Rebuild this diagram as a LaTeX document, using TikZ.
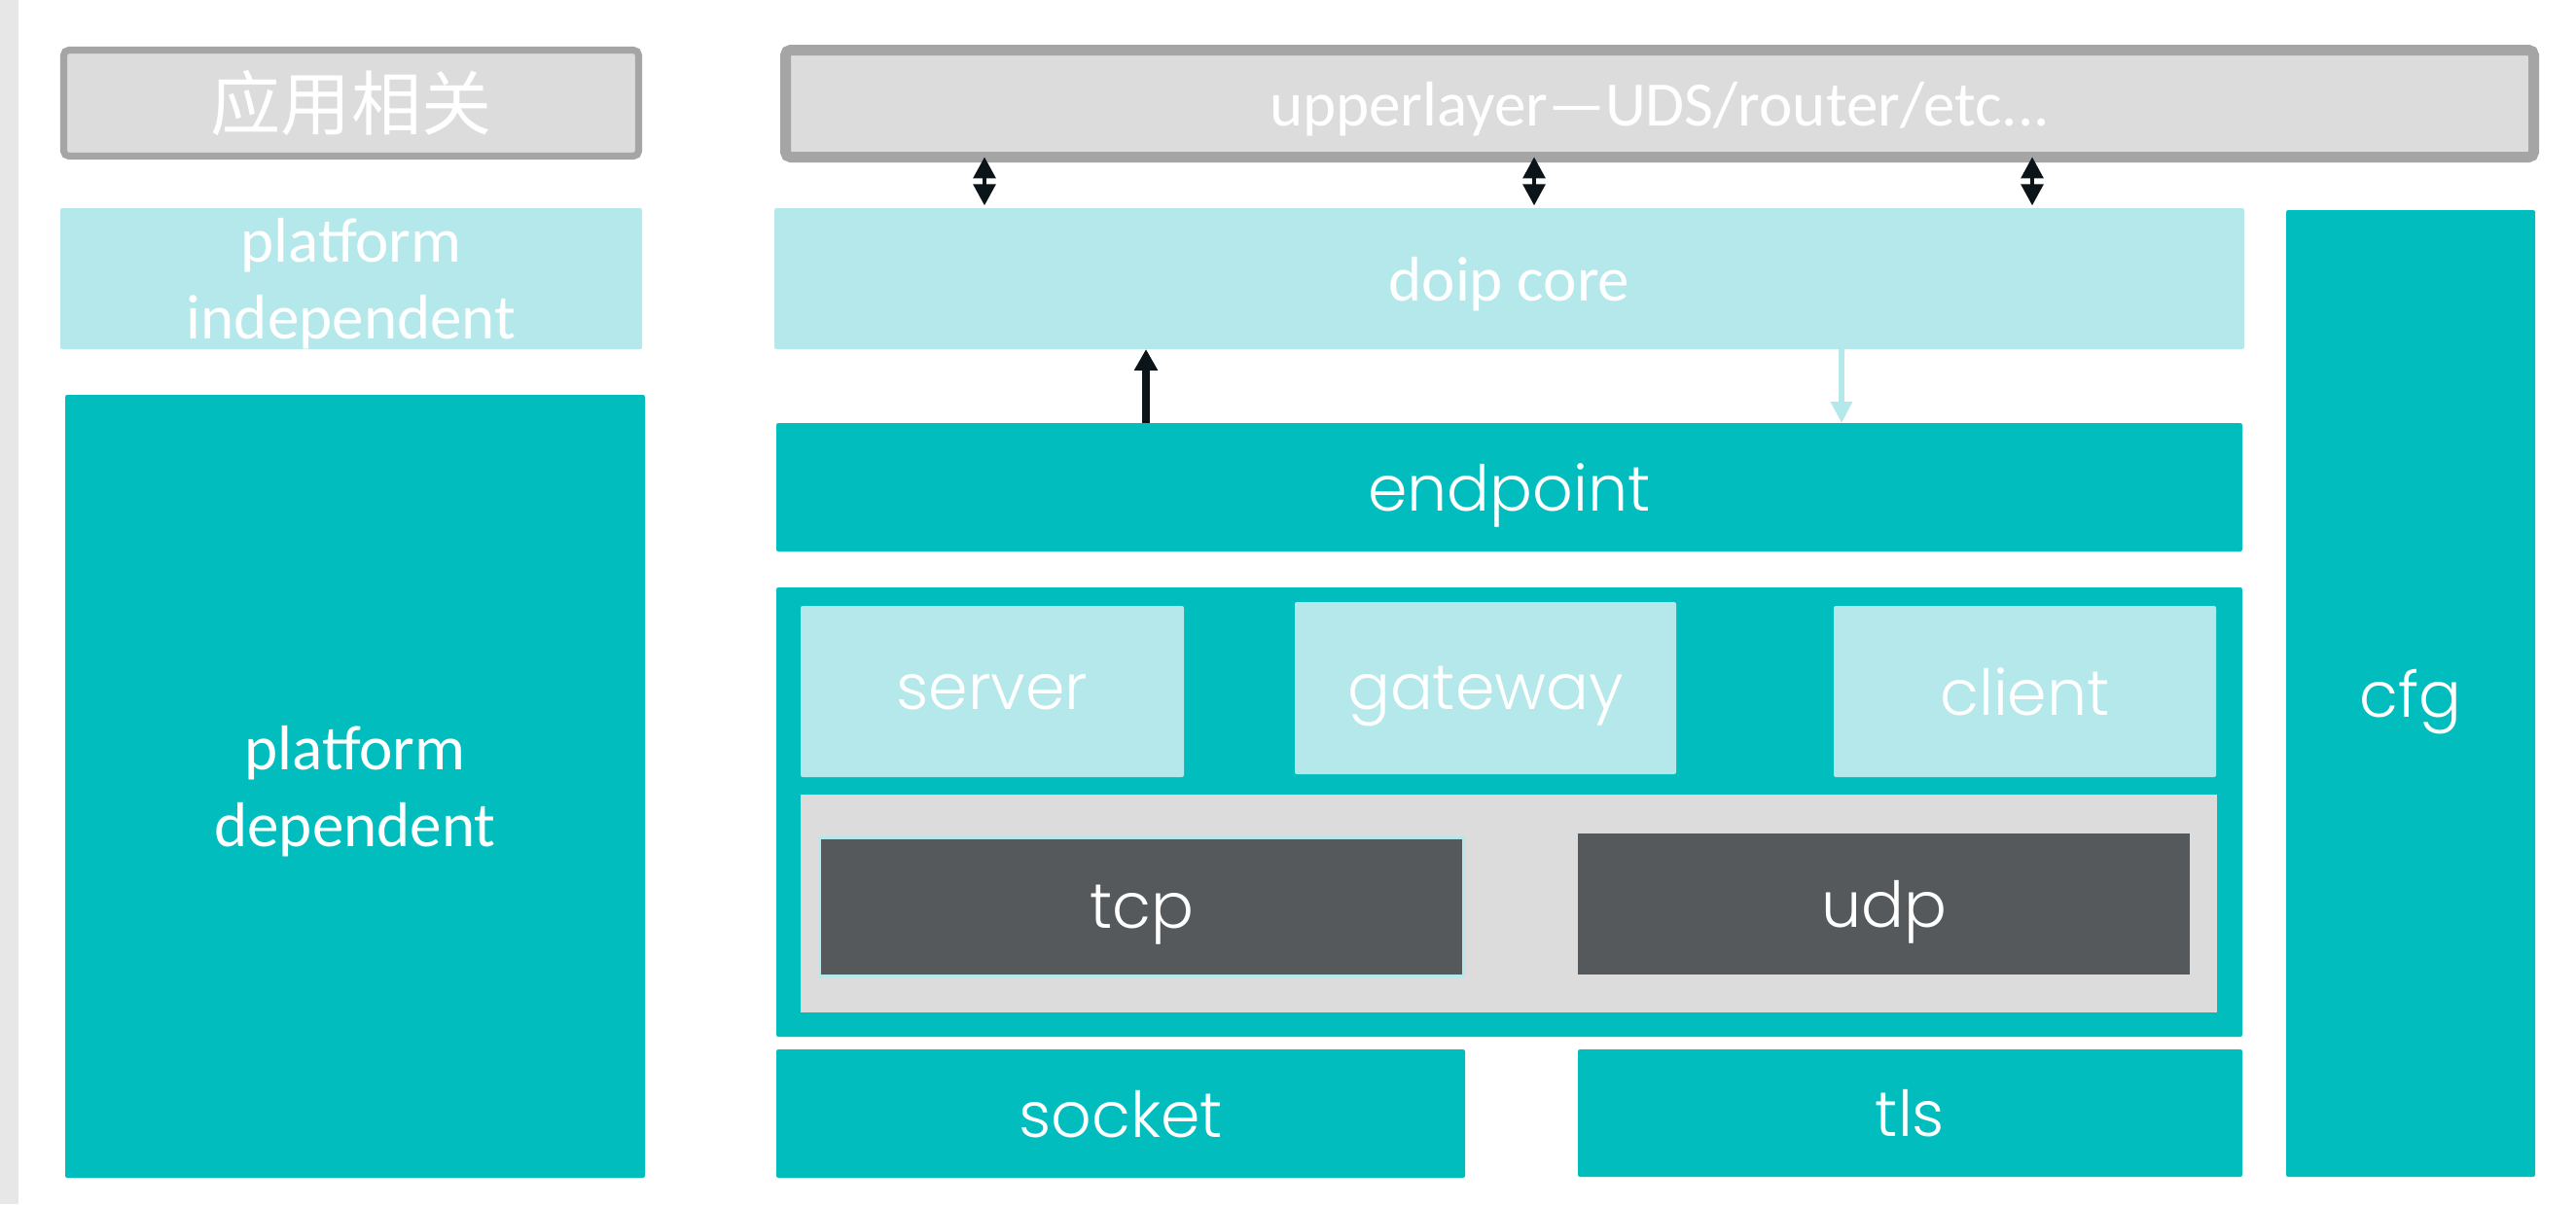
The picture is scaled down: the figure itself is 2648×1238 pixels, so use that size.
\documentclass[tikz,border=0pt]{standalone}
\usepackage{fontspec}
\setmainfont{Carlito}
\newfontfamily\geo{Poppins Light}
\newfontfamily\cjk{Noto Sans CJK SC}
\usetikzlibrary{arrows.meta,shadows}
\definecolor{teal1}{HTML}{02BDBE}
\definecolor{lblue}{HTML}{B5E8EA}
\definecolor{lgray}{HTML}{DCDCDC}
\definecolor{bgray}{HTML}{A5A5A5}
\definecolor{dgray}{HTML}{55595C}
\definecolor{arr}{HTML}{0A1419}
\definecolor{strip}{HTML}{E7E7E7}
\newcommand\mybox[7]{\node[#6, minimum width={(#4-#2)*0.01cm}, minimum height={(#5-#3)*0.01cm}] (#1) at ({(#2+#4)/2},{(#3+#5)/2}) {#7};}
\begin{document}
\begin{tikzpicture}[x=0.01cm,y=-0.01cm,
  every node/.style={inner sep=0pt,outer sep=0pt,text=white,align=center},
  base/.style={rounded corners=0.6pt},
  tealbox/.style={base,fill=teal1},
  lightbox/.style={base,fill=lblue},
  graybox/.style={base,fill=lgray,draw=bgray,rounded corners=1.5pt},
  darkbox/.style={fill=dgray},
  geotext/.style={font=\geo\fontsize{18.5}{22}\selectfont,text depth=0pt},
  caltext/.style={font=\fontsize{18.5}{22.5}\selectfont,text depth=0pt},
  dbl/.style={draw=arr,line width=0.9pt,{Triangle[length=6.2pt,width=6.5pt]}-{Triangle[length=6.2pt,width=6.5pt]},shorten >=0.8pt},
  uparr/.style={draw=arr,line width=2pt,-{Triangle[length=6.2pt,width=6.5pt]}},
  lightarr/.style={draw=lblue,line width=1.7pt,-{Triangle[length=6.2pt,width=6pt]}}
]
\fill[white] (0,0) rectangle (2648,1238);
\useasboundingbox (0,0) rectangle (2648,1238);
\fill[strip] (0,0) rectangle (19,1238);

% left column
\mybox{app}{65.5}{51.5}{656.5}{160.5}{graybox,line width=2pt,font=\cjk\fontsize{20.5}{24}\selectfont}{应用相关}
\mybox{indep}{62}{214}{660}{359}{lightbox,caltext}{platform\\independent}
\mybox{dep}{67}{406}{663}{1211}{tealbox,caltext}{platform\\dependent}

% right part
\mybox{up}{807.5}{51.5}{2604.5}{161.5}{graybox,line width=3.13pt,caltext,drop shadow={opacity=0.18,shadow xshift=0pt,shadow yshift=-1.6pt}}{upperlayer—UDS/router/etc...}
\mybox{doip}{796}{214}{2307}{359}{lightbox,caltext}{doip core}
\mybox{cfg}{2350}{216}{2606}{1210}{tealbox,geotext}{cfg}
\mybox{endpoint}{798}{435}{2305}{567}{tealbox,geotext}{endpoint}
\mybox{big}{798}{604}{2305}{1066}{tealbox}{}
\mybox{server}{823}{623}{1217}{799}{lightbox,geotext}{server}
\mybox{gateway}{1331}{619}{1723}{796}{lightbox,geotext}{gateway}
\mybox{client}{1885}{623}{2278}{799}{lightbox,geotext}{client}
\mybox{trans}{823}{817}{2279}{1041}{fill=lgray}{}
\mybox{tcp}{843}{861.5}{1504.5}{1003.5}{darkbox,draw=lblue,line width=0.7pt,geotext}{tcp}
\mybox{udp}{1622}{857}{2251}{1002}{darkbox,geotext}{udp}
\mybox{socket}{798}{1079}{1506}{1211}{tealbox,geotext}{socket}
\mybox{tls}{1622}{1079}{2305}{1210}{tealbox,geotext}{tls}

% arrow positions
\coordinate (a1) at (1012,0);
\coordinate (a2) at (1577,0);
\coordinate (a3) at (2089,0);
\coordinate (a4) at (1178,0);
\coordinate (a5) at (1893,0);

\draw[dbl] (up.south -| a1) -- (doip.north -| a1);
\draw[dbl] (up.south -| a2) -- (doip.north -| a2);
\draw[dbl] (up.south -| a3) -- (doip.north -| a3);
\draw[uparr] (endpoint.north -| a4) -- (doip.south -| a4);
\draw[lightarr] (doip.south -| a5) -- (endpoint.north -| a5);
\end{tikzpicture}
\end{document}
